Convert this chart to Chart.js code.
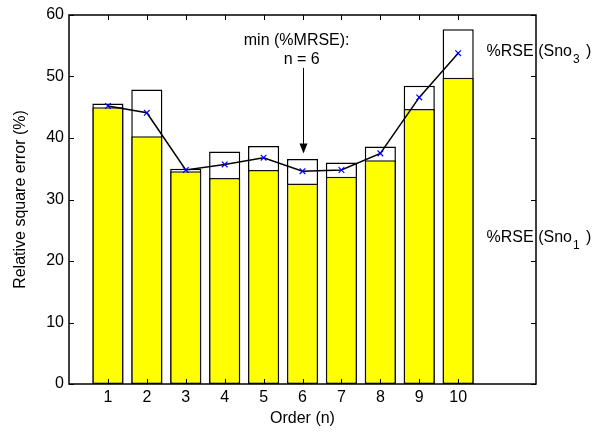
<!DOCTYPE html>
<html>
<head>
<meta charset="utf-8">
<script src="https://cdn.jsdelivr.net/npm/chart.js@4/dist/chart.umd.min.js"></script>
<style>
  html, body { margin: 0; padding: 0; background: #fff; }
  #wrap { width: 599px; height: 434px; }
</style>
</head>
<body>
<div id="wrap"><canvas id="rseChart" width="599" height="434"></canvas></div>
<script>
// order of the model (x axis)
var orders = [1, 2, 3, 4, 5, 6, 7, 8, 9, 10];
// %RSE for Sno3 (white bars, behind)
var rseSno3 = [45.6, 47.9, 35.0, 37.8, 38.7, 36.6, 36.0, 38.6, 48.5, 57.7];
// %RSE for Sno1 (yellow bars, in front)
var rseSno1 = [45.0, 40.3, 34.6, 33.5, 34.8, 32.6, 33.7, 36.4, 44.7, 49.8];
// %MRSE (line with x markers)
var mrse = [45.2, 44.1, 34.8, 35.7, 36.8, 34.6, 34.8, 37.5, 46.6, 53.8];
// tick labels
var xTicks = orders;
var yTicks = [0, 10, 20, 30, 40, 50, 60];

var FONT = 'Liberation Sans, Arial, sans-serif';

function points(values) {
  return orders.map(function (n, i) { return { x: n, y: values[i] }; });
}

// box with inward ticks on all four sides, plus the text annotations
var matlabAxes = {
  id: 'matlabAxes',
  afterDraw: function (chart) {
    var ctx = chart.ctx;
    var a = chart.chartArea;
    var xs = chart.scales.x;
    var ys = chart.scales.y;
    ctx.save();
    ctx.strokeStyle = '#000';
    ctx.lineWidth = 1.5;
    ctx.strokeRect(a.left, a.top, a.right - a.left, a.bottom - a.top);
    ctx.lineWidth = 1;
    ctx.beginPath();
    xTicks.forEach(function (v) {
      var px = Math.round(xs.getPixelForValue(v)) + 0.5;
      ctx.moveTo(px, a.bottom); ctx.lineTo(px, a.bottom - 5);
      ctx.moveTo(px, a.top); ctx.lineTo(px, a.top + 5);
    });
    yTicks.forEach(function (v) {
      var py = Math.round(ys.getPixelForValue(v)) + 0.5;
      ctx.moveTo(a.left, py); ctx.lineTo(a.left + 5, py);
      ctx.moveTo(a.right, py); ctx.lineTo(a.right - 5, py);
    });
    ctx.stroke();

    // min (%MRSE) annotation with arrow to n = 6
    ctx.fillStyle = '#000';
    ctx.font = '16px ' + FONT;
    ctx.textAlign = 'center';
    ctx.textBaseline = 'middle';
    ctx.fillText('min (%MRSE):', xs.getPixelForValue(5.85), ys.getPixelForValue(55.9));
    ctx.fillText('n = 6', xs.getPixelForValue(5.98), ys.getPixelForValue(52.7));
    var ax = Math.round(xs.getPixelForValue(6)) + 0.5;
    var y0 = ys.getPixelForValue(51.4);
    var y1 = ys.getPixelForValue(37.5);
    ctx.beginPath();
    ctx.moveTo(ax, y0); ctx.lineTo(ax, y1 - 8);
    ctx.stroke();
    ctx.beginPath();
    ctx.moveTo(ax, y1);
    ctx.lineTo(ax - 4, y1 - 10);
    ctx.lineTo(ax + 4, y1 - 10);
    ctx.closePath();
    ctx.fill();

    // series labels on the right
    function seriesLabel(sub, yv) {
      var x = xs.getPixelForValue(10.73);
      var y = ys.getPixelForValue(yv);
      ctx.textAlign = 'left';
      ctx.font = '16px ' + FONT;
      var main = '%RSE (Sno';
      ctx.fillText(main, x, y);
      var w = ctx.measureText(main).width;
      ctx.font = '12px ' + FONT;
      ctx.fillText(sub, x + w + 1, y + 8);
      var ws = ctx.measureText(sub).width;
      ctx.font = '16px ' + FONT;
      ctx.fillText(' )', x + w + ws + 3, y);
    }
    seriesLabel('3', 54.1);
    seriesLabel('1', 23.8);
    ctx.restore();
  }
};

var ctx = document.getElementById('rseChart');
var rseChart = new Chart(ctx, {
  type: 'bar',
  data: {
    datasets: [
      {
        type: 'line',
        label: '%MRSE',
        data: points(mrse),
        borderColor: '#000',
        borderWidth: 1.5,
        pointStyle: 'crossRot',
        pointRadius: 4,
        pointBorderColor: '#0000ff',
        pointBorderWidth: 1.2,
        fill: false,
        tension: 0,
        order: 0
      },
      {
        label: '%RSE (Sno1)',
        data: points(rseSno1),
        backgroundColor: '#ffff00',
        borderColor: '#111',
        borderWidth: 1.5,
        borderSkipped: false,
        grouped: false,
        barPercentage: 0.8,
        categoryPercentage: 1,
        order: 1
      },
      {
        label: '%RSE (Sno3)',
        data: points(rseSno3),
        backgroundColor: '#ffffff',
        borderColor: '#000',
        borderWidth: 1.5,
        borderSkipped: false,
        grouped: false,
        barPercentage: 0.8,
        categoryPercentage: 1,
        order: 2
      }
    ]
  },
  options: {
    responsive: false,
    animation: false,
    layout: { padding: { top: 15, right: 63, left: 0, bottom: 0 } },
    plugins: {
      legend: { display: false },
      tooltip: { enabled: false }
    },
    scales: {
      x: {
        type: 'linear',
        offset: false,
        min: 0,
        max: 12,
        afterBuildTicks: function (s) {
          s.ticks = xTicks.map(function (v) { return { value: v }; });
        },
        afterFit: function (s) { s.height = 50; },
        grid: { display: false, drawTicks: false, offset: false },
        border: { display: false },
        ticks: { color: '#000', font: { family: FONT, size: 16 }, padding: 4, maxRotation: 0 },
        title: {
          display: true, text: 'Order (n)', color: '#000',
          font: { family: FONT, size: 16 }, padding: { top: 0, bottom: 6 }
        }
      },
      y: {
        min: 0,
        max: 60,
        afterBuildTicks: function (s) {
          s.ticks = yTicks.map(function (v) { return { value: v }; });
        },
        afterFit: function (s) { s.width = 69; },
        grid: { display: false, drawTicks: false },
        border: { display: false },
        ticks: { color: '#000', font: { family: FONT, size: 16 }, padding: 5 },
        title: {
          display: true, text: 'Relative square error (%)', color: '#000',
          font: { family: FONT, size: 16 }, padding: { top: 11, bottom: 0 }
        }
      }
    }
  },
  plugins: [matlabAxes]
});
</script>
</body>
</html>
